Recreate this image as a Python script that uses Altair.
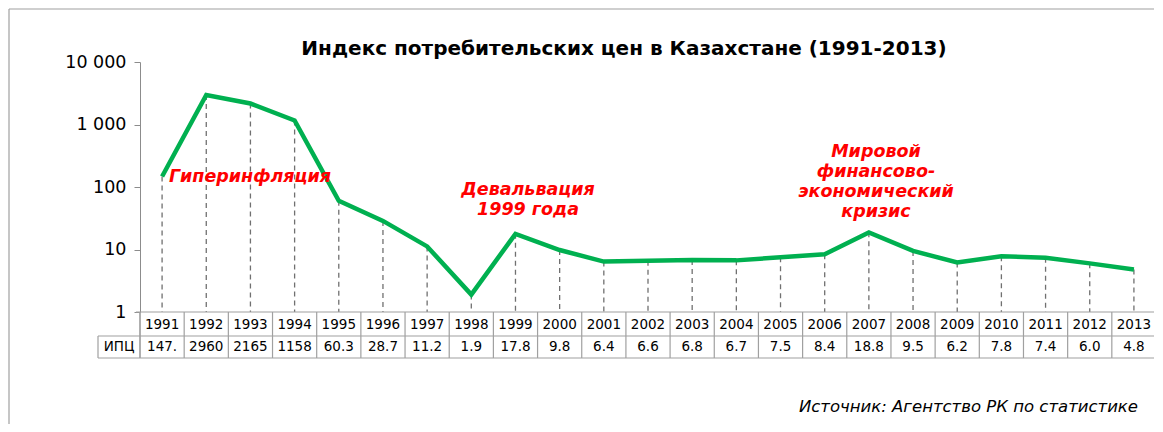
import altair as alt
import pandas as pd

years = [str(y) for y in range(1991, 2014)]
cpi = [147.3, 2960, 2165, 1158, 60.3, 28.7, 11.2, 1.9, 17.8, 9.8, 6.4, 6.6,
       6.8, 6.7, 7.5, 8.4, 18.8, 9.5, 6.2, 7.8, 7.4, 6.0, 4.8]
cpi_labels = ["147.", "2960", "2165", "1158", "60.3", "28.7", "11.2", "1.9",
              "17.8", "9.8", "6.4", "6.6", "6.8", "6.7", "7.5", "8.4", "18.8",
              "9.5", "6.2", "7.8", "7.4", "6.0", "4.8"]
y_ticks = [1, 10, 100, 1000, 10000]

title_text = "Индекс потребительских цен в Казахстане (1991-2013)"
source_text = "Источник: Агентство РК по статистике"
row_label = "ИПЦ"

df = pd.DataFrame({"year": years, "cpi": cpi, "label": cpi_labels, "base": 1})

FONT = "DejaVu Sans"
GREY = "#8c8c8c"
TBL = "#a0a0a0"
W_SCALE, W, H = 1016, 1014, 250

xs = alt.Scale(type="band", paddingInner=0, paddingOuter=0, domain=years, range=[0, W_SCALE])
ys = alt.Scale(type="log", domain=[1, 10000], nice=False)

base = alt.Chart(df)
one = pd.DataFrame({"a": [0]})


def hrule(x1, x2, y):
    return alt.Chart(one).mark_rule(color=TBL, strokeWidth=1.2).encode(
        x=alt.value(x1), x2=alt.value(x2), y=alt.value(y))


def vrule(x, y1, y2, color=TBL):
    return alt.Chart(one).mark_rule(color=color, strokeWidth=1.2).encode(
        x=alt.value(x), y=alt.value(y1), y2=alt.value(y2))


frame_top = alt.Chart(one).mark_rule(color="#a0a0a0", strokeWidth=1.2).encode(
    x=alt.value(-131), x2=alt.value(W), y=alt.value(-53))
frame_left = alt.Chart(one).mark_rule(color="#a0a0a0", strokeWidth=1.2).encode(
    x=alt.value(-131), y=alt.value(-53), y2=alt.value(H + 112))

drops = base.mark_rule(color="#707070", strokeDash=[5, 4], strokeWidth=1.3).encode(
    x=alt.X("year:O", scale=xs, axis=None),
    y=alt.Y("cpi:Q", scale=ys),
    y2="base:Q",
)

line = base.mark_line(color="#00B050", strokeWidth=4.5).encode(
    x=alt.X("year:O", scale=xs, axis=None),
    y=alt.Y(
        "cpi:Q",
        scale=ys,
        title=None,
        axis=alt.Axis(
            values=y_ticks,
            labelExpr="replace(format(datum.value, ','), ',', ' ')",
            labelFont=FONT,
            labelFontSize=17.5,
            labelColor="#000000",
            labelPadding=8,
            grid=False,
            domainColor=GREY,
            tickColor=GREY,
            tickSize=6,
        ),
    ),
)

vlines = base.mark_rule(color=TBL, strokeWidth=1.2).encode(
    x=alt.X("year:O", scale=xs, axis=None, bandPosition=0),
    y=alt.value(H),
    y2=alt.value(H + 46),
)

year_text = base.mark_text(font=FONT, fontSize=13.5, color="#000000", baseline="middle").encode(
    x=alt.X("year:O", scale=xs, axis=None),
    y=alt.value(H + 13),
    text="year:N",
)
val_text = base.mark_text(font=FONT, fontSize=13.5, color="#000000", baseline="middle").encode(
    x=alt.X("year:O", scale=xs, axis=None),
    y=alt.value(H + 35),
    text="label:N",
)
row_text = alt.Chart(pd.DataFrame({"t": [row_label]})).mark_text(
    font=FONT, fontSize=13.5, color="#000000", baseline="middle", align="center"
).encode(x=alt.value(-21), y=alt.value(H + 35), text="t:N")

title = alt.Chart(pd.DataFrame({"t": [title_text]})).mark_text(
    font=FONT, fontSize=20, fontWeight="bold", color="#000000", baseline="middle", align="center"
).encode(x=alt.value(484), y=alt.value(-13), text="t:N")

ann_df = pd.DataFrame({
    "t": ["Гиперинфляция", "Девальвация\n1999 года", "Мировой\nфинансово-\nэкономический\nкризис"],
    "x": [110, 388, 736],
    "y": [115, 128, 90],
})
ann = alt.Chart(ann_df).mark_text(
    font=FONT, fontSize=17.5, fontWeight="bold", fontStyle="italic", color="#FF0000",
    baseline="middle", align="center", lineBreak="\n", lineHeight=20
).encode(x=alt.X("x:Q", scale=None), y=alt.Y("y:Q", scale=None), text="t:N")

source = alt.Chart(pd.DataFrame({"t": [source_text]})).mark_text(
    font=FONT, fontSize=16.5, fontStyle="italic", color="#000000", baseline="middle", align="right"
).encode(x=alt.value(998), y=alt.value(345), text="t:N")

chart = alt.layer(
    frame_top, frame_left, drops, line, vlines,
    vrule(W_SCALE - 1, H, H + 46), vrule(0, H, H + 46),
    hrule(-4, W_SCALE, H), hrule(-42, W_SCALE, H + 24), hrule(-42, W_SCALE, H + 46),
    vrule(-42, H + 24, H + 46),
    year_text, val_text, row_text, title, ann, source
).properties(
    width=W, height=H,
    autosize=alt.AutoSizeParams(type="none"),
    padding={"left": 132, "top": 54, "right": 0, "bottom": 112},
).configure_view(stroke=None, clip=False)

chart.save("out.html", embed_options={"renderer": "svg", "actions": False})
